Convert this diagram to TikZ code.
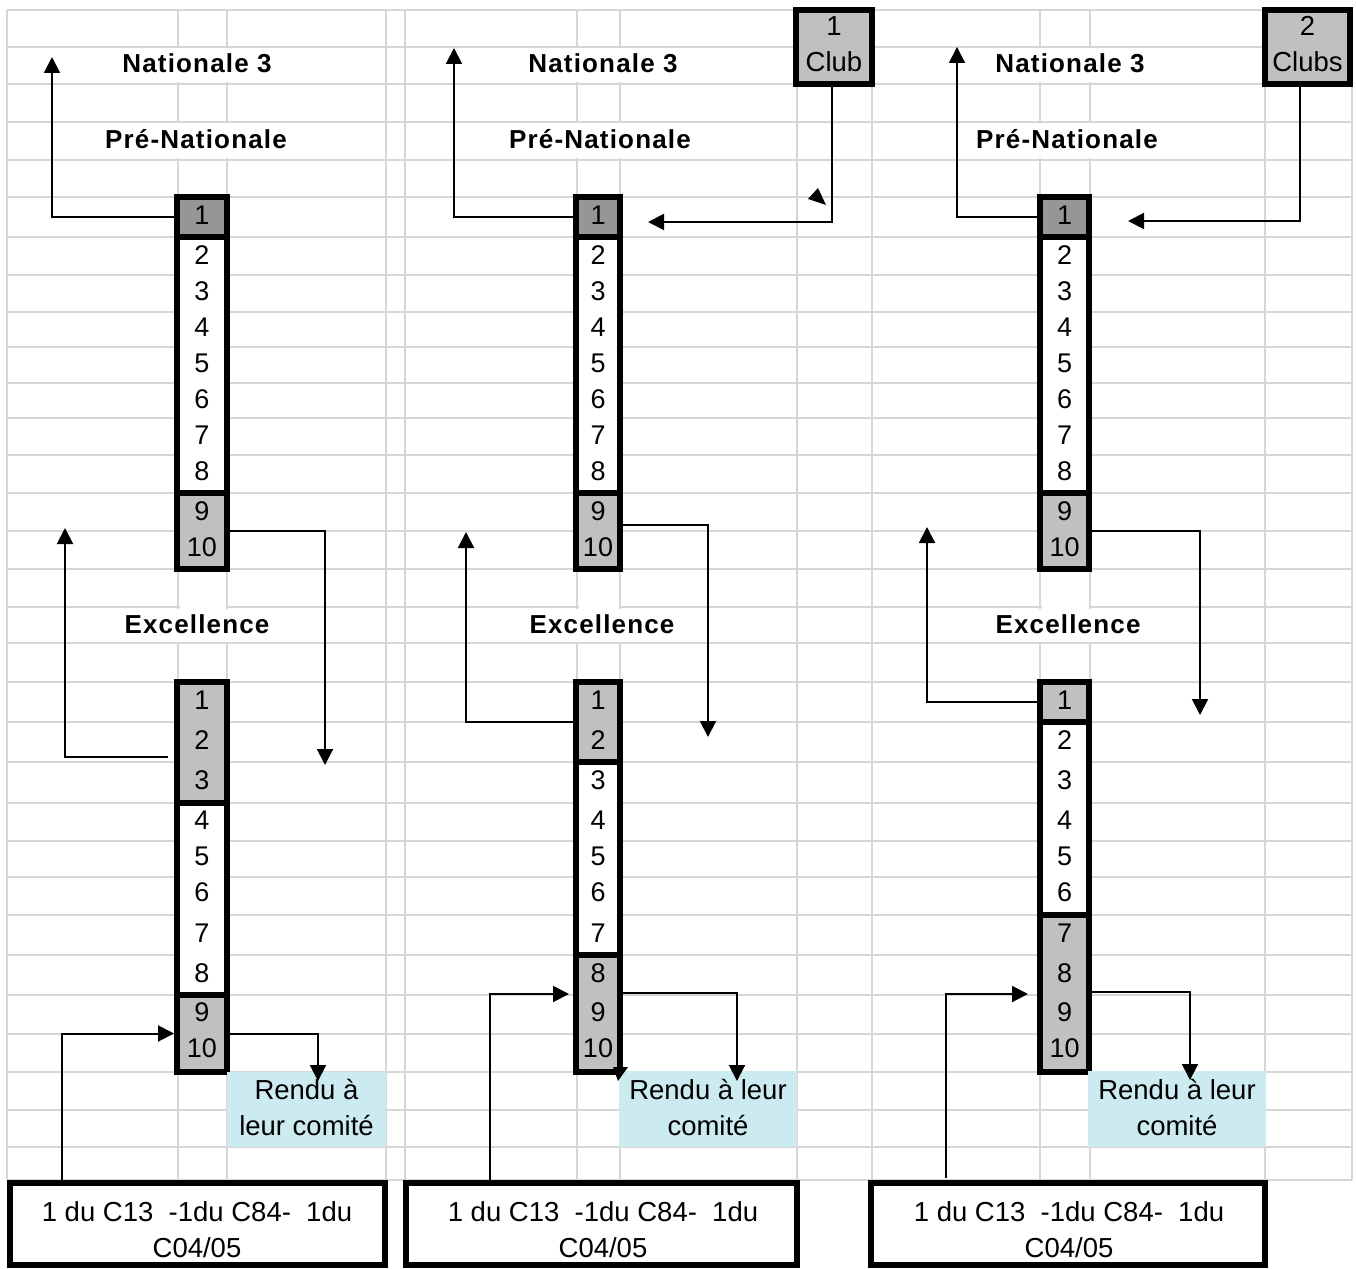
\documentclass[tikz,border=0pt]{standalone}
\usepackage{fontspec}
\setmainfont{Liberation Sans}
\usetikzlibrary{arrows.meta}
\definecolor{gfonce}{HTML}{969696}
\definecolor{gclair}{HTML}{C0C0C0}
\definecolor{bleuclair}{HTML}{CCEBF0}
\definecolor{grille}{HTML}{D6D6D6}
\begin{document}
\begin{tikzpicture}[x=1pt,y=-1pt,
  gridline/.style={draw=grille, line width=2.5pt},
  sect/.style={draw, line width=6pt, inner sep=0pt, outer sep=3pt},
  conn/.style={line width=2pt, -{Triangle[length=16pt,width=16pt]}},
  head/.style={inner sep=0pt, font=\fontsize{26}{30}\selectfont\bfseries\addfontfeature{LetterSpace=4.5}},
  num/.style={inner sep=0pt, font=\fontsize{27}{30}\selectfont},
  txtbox/.style={inner sep=0pt, align=center, font=\fontsize{27.5}{36}\selectfont}]
\useasboundingbox (0,0) rectangle (1356,1268);
\fill[white] (0,0) rectangle (1356,1268);
% grille du tableur
\foreach \y in {10,47,84,122,160,197,237,275,312,347,383,418,455,493,531,569,607,643,682,722,762,803,841,877,915,955,995,1034,1072,1110,1147,1180}
  \draw[gridline] (7,\y) -- (1352,\y);
\foreach \x in {7,178,227,386,405,577,620,797,872,1040,1090,1265,1352}
  \draw[gridline] (\x,10) -- (\x,1180);
% cellules fusionnees
\foreach \l/\r/\cl/\cr in {7/386/178/227,405/797/577/620,872/1265/1040/1090}{
  \fill[white] ({\l+1.5},48.5) rectangle ({\r-1.5},82.5);
  \fill[white] ({\l+1.5},123.5) rectangle ({\r-1.5},158.5);
  \fill[white] ({\l+1.5},608.5) rectangle ({\r-1.5},641.5);
  \fill[white] ({\cl+1.5},570.5) rectangle ({\cr-1.5},641.5);
}
% titres
\node[head] (natA) at (197,63) {Nationale 3};
\node[head] (preA) at (196,139) {Pré-Nationale};
\node[head] (excA) at (197,624) {Excellence};
\node[head] (natB) at (603,63) {Nationale 3};
\node[head] (preB) at (600,139) {Pré-Nationale};
\node[head] (excB) at (602,624) {Excellence};
\node[head] (natC) at (1070,63) {Nationale 3};
\node[head] (preC) at (1067,139) {Pré-Nationale};
\node[head] (excC) at (1068,624) {Excellence};
% classements
\foreach \n/\x/\w/\a/\b/\c in {pnA1/202/50/197/237/gfonce, pnA2/202/50/237/493/white, pnA3/202/50/493/569/gclair,
  exA1/202/50/682/803/gclair, exA2/202/50/803/995/white, exA3/202/50/995/1072/gclair,
  pnB1/598/44/197/237/gfonce, pnB2/598/44/237/493/white, pnB3/598/44/493/569/gclair,
  exB1/598/44/682/762/gclair, exB2/598/44/762/955/white, exB3/598/44/955/1072/gclair,
  pnC1/1064.5/49/197/237/gfonce, pnC2/1064.5/49/237/493/white, pnC3/1064.5/49/493/569/gclair,
  exC1/1064.5/49/682/722/gclair, exC2/1064.5/49/722/915/white, exC3/1064.5/49/915/1072/gclair}
  \node[sect, fill=\c, minimum width=\w pt, minimum height={(\b-\a)*1pt}] (\n) at (\x,{(\a+\b)/2}) {};
\foreach \g/\x in {A/202,B/598,C/1064.5}{
  \foreach \i/\y in {1/215,2/255,3/291,4/327,5/363,6/399,7/435,8/471,9/511,10/547}
    \node[num] (p\g\i) at (\x,\y) {\i};
  \foreach \i/\y in {1/700,2/740,3/780,4/820,5/856,6/892,7/933,8/973,9/1012,10/1048}
    \node[num] (e\g\i) at (\x,\y) {\i};
}
% clubs montants
\node[sect, txtbox, text depth=6pt, fill=gclair, minimum width=76pt, minimum height=74pt] (clubB) at (834,47) {1\\Club};
\node[sect, txtbox, text depth=6pt, fill=gclair, minimum width=85pt, minimum height=74pt] (clubC) at (1307.5,47) {2\\Clubs};
% rendu aux comites
\node[txtbox, text depth=4pt, fill=bleuclair, minimum width=159pt, minimum height=75pt] (rendA) at (306.5,1109.5) {Rendu à\\leur comité};
\node[txtbox, text depth=4pt, fill=bleuclair, minimum width=178pt, minimum height=76pt] (rendB) at (708,1109) {Rendu à leur\\comité};
\node[txtbox, text depth=4pt, fill=bleuclair, minimum width=178pt, minimum height=76pt] (rendC) at (1177,1109) {Rendu à leur\\comité};
% comites
\node[sect, fill=white, minimum width=375pt, minimum height=82pt] (botA) at (197.5,1224) {};
\node[sect, fill=white, minimum width=391pt, minimum height=82pt] (botB) at (601.5,1224) {};
\node[sect, fill=white, minimum width=394pt, minimum height=82pt] (botC) at (1068,1224) {};
\node[txtbox] (tbotA) at (197,1229.5) {1 du C13\ \ -1du C84-\ \ 1du\\C04/05};
\node[txtbox] (tbotB) at (603,1229.5) {1 du C13\ \ -1du C84-\ \ 1du\\C04/05};
\node[txtbox] (tbotC) at (1069,1229.5) {1 du C13\ \ -1du C84-\ \ 1du\\C04/05};
% fleches
\coordinate (a1) at (52,57);
\coordinate (a2) at (325,765);
\coordinate (a3s) at (168,757);
\coordinate (a3) at (65,528);
\coordinate (a4s) at (62,1180);
\coordinate (a5) at (318,1081);
\draw[conn] (pnA1.west) -| (a1);
\draw[conn] (pnA3.east) -| (a2);
\draw[conn] (a3s) -| (a3);
\draw[conn] (a4s) |- (exA3.west);
\draw[conn] (exA3.east) -| (a5);
\coordinate (b1) at (454,48);
\coordinate (b2s) at (832,87);
\coordinate (b2) at (648,222);
\coordinate (b3s) at (623,525);
\coordinate (b3) at (708,737);
\coordinate (b4) at (466,532);
\coordinate (b5s) at (490,1180);
\coordinate (b5) at (569,994);
\coordinate (b6s) at (623,993);
\coordinate (b6) at (737,1081);
\draw[conn] (pnB1.west) -| (b1);
\draw[conn] (b2s) |- (b2);
\draw[conn] (b3s) -| (b3);
\draw[conn] (exB1.west) -| (b4);
\draw[conn] (b5s) |- (b5);
\draw[conn] (b6s) -| (b6);
\fill (818,188) -- (808,199) -- (826,205) -- cycle;
\fill (613,1067) -- (628,1067) -- (618,1081) -- cycle;
\coordinate (c1) at (957,47);
\coordinate (c2s) at (1300,87);
\coordinate (c2) at (1128,221);
\coordinate (c3) at (1200,715);
\coordinate (c4) at (927,527);
\coordinate (c5s) at (946,1178);
\coordinate (c5) at (1028,994);
\coordinate (c6s) at (1090,992);
\coordinate (c6) at (1190,1080);
\draw[conn] (pnC1.west) -| (c1);
\draw[conn] (c2s) |- (c2);
\draw[conn] (pnC3.east) -| (c3);
\draw[conn] (exC1.west) -| (c4);
\draw[conn] (c5s) |- (c5);
\draw[conn] (c6s) -| (c6);
\end{tikzpicture}
\end{document}
